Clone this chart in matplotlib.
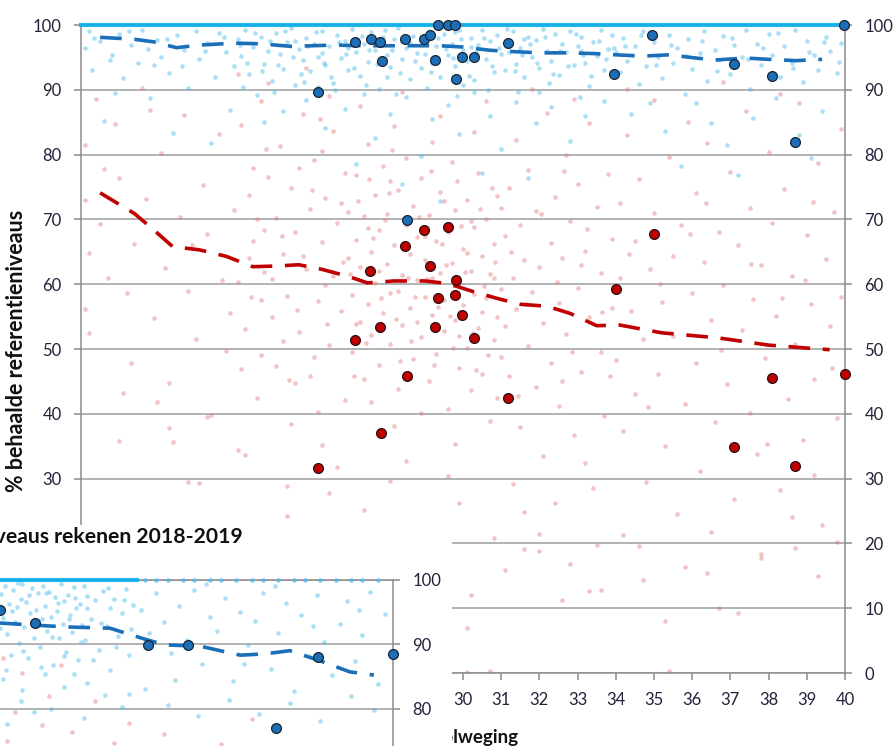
import matplotlib.pyplot as plt

plt.rcParams['font.family'] = ['Lato', 'DejaVu Sans']

# achtergrondwolk: individuele leerlingen (x = schoolweging, y = % behaald)
red_cloud = [
    (20.1, 81.5), (20.1, 73.0), (20.2, 64.8), (20.1, 56.2), (20.2, 52.4), (20.4, 88.6), (20.5, 69.3), (20.7, 61.0),
    (20.9, 84.7), (21.0, 76.4), (21.2, 58.6), (21.3, 47.9), (21.4, 66.2), (21.6, 90.3), (21.7, 73.1), (21.9, 54.8),
    (22.1, 80.2), (22.2, 62.5), (22.3, 44.7), (22.6, 70.4), (22.7, 86.1), (22.8, 58.9), (23.0, 51.6), (23.2, 75.3),
    (23.3, 67.8), (23.4, 39.8), (23.6, 83.2), (23.7, 60.7), (23.9, 55.6), (24.0, 71.4), (24.1, 92.5), (24.2, 46.9),
    (24.4, 64.1), (24.5, 78.0), (24.7, 57.5), (24.8, 68.3), (22.4, 35.6), (21.1, 43.2), (23.1, 29.3), (20.6, 77.8),
    (21.8, 86.9), (22.9, 66.1), (23.8, 49.7), (21.0, 35.8), (22.0, 41.8), (22.3, 37.8), (23.3, 39.5), (22.8, 29.5),
    (24.1, 34.4), (25.4, 24.2),
    (24.1, 60.3), (24.2, 84.6), (24.3, 53.1), (24.4, 73.8), (24.5, 66.7), (24.6, 42.5), (24.7, 88.2), (24.8, 61.9),
    (24.9, 76.5), (25.0, 55.0), (25.1, 70.2), (25.1, 47.3), (25.2, 81.4), (25.3, 64.6), (25.4, 58.2), (25.5, 74.9),
    (25.5, 38.4), (25.6, 68.0), (25.7, 52.7), (25.8, 86.3), (25.9, 62.4), (26.0, 71.6), (26.0, 45.8), (26.1, 79.1),
    (26.2, 57.4), (26.3, 66.5), (26.3, 35.2), (26.4, 73.3), (26.5, 50.6), (26.6, 83.7), (26.6, 61.2), (26.7, 69.4),
    (26.8, 55.9), (26.9, 77.2), (26.9, 42.1), (27.0, 64.0), (24.6, 70.1), (25.0, 60.8), (25.3, 51.2), (25.7, 77.9),
    (26.1, 48.7), (26.4, 59.8), (26.8, 72.6), (24.9, 91.0), (25.9, 93.4), (26.5, 89.1), (24.3, 33.6), (25.4, 28.9),
    (26.2, 40.3), (26.7, 31.8), (25.8, 64.4), (26.3, 80.5), (24.7, 49.0), (25.6, 44.7),
    (27.0, 71.2), (27.1, 58.3), (27.1, 49.6), (27.2, 66.8), (27.2, 76.9), (27.3, 54.2), (27.3, 62.7), (27.4, 45.3),
    (27.4, 70.5), (27.5, 81.6), (27.5, 57.0), (27.6, 64.9), (27.6, 52.1), (27.7, 73.7), (27.7, 60.2), (27.8, 68.4),
    (27.8, 47.5), (27.9, 55.6), (27.9, 78.3), (28.0, 63.1), (28.0, 70.9), (28.1, 50.8), (28.1, 58.7), (28.2, 66.0),
    (28.2, 84.4), (28.3, 74.6), (28.3, 43.9), (28.4, 61.4), (28.4, 53.7), (28.5, 69.2), (28.5, 79.5), (28.6, 56.3),
    (28.6, 64.7), (28.7, 48.4), (28.7, 72.1), (28.8, 60.6), (28.8, 67.3), (28.9, 51.9), (28.9, 76.4), (29.0, 58.1),
    (29.0, 63.8), (29.1, 45.0), (29.1, 70.7), (29.2, 55.2), (29.2, 82.0), (29.3, 66.6), (29.3, 49.3), (29.4, 61.7),
    (29.4, 74.2), (29.5, 57.6), (29.5, 52.8), (29.6, 68.0), (29.6, 40.7), (29.7, 63.3), (29.7, 78.8), (29.8, 54.5),
    (29.8, 71.4), (29.9, 47.0), (29.9, 60.0), (30.0, 65.5), (30.0, 56.8), (30.1, 73.0), (30.1, 50.2), (30.2, 62.1),
    (30.2, 43.6), (30.3, 68.9), (30.3, 58.5), (30.4, 77.1), (30.4, 53.3), (30.5, 64.4), (30.5, 46.1), (30.6, 70.0),
    (30.6, 57.9), (30.7, 38.9), (30.7, 61.6), (30.8, 51.4), (30.8, 66.2), (30.9, 55.0), (30.9, 73.6), (31.0, 48.8),
    (31.0, 59.3), (27.3, 87.5), (27.9, 36.5), (28.4, 89.7), (28.9, 40.2), (29.4, 86.0), (29.8, 35.4), (30.3, 83.5),
    (30.6, 88.2), (27.6, 41.8), (28.2, 38.1), (30.9, 42.4), (27.5, 68.7), (28.1, 76.0), (28.6, 45.6), (29.0, 67.5),
    (29.5, 72.9), (29.9, 52.0), (30.2, 69.8), (30.8, 60.9), (27.8, 62.0), (28.3, 58.9), (28.8, 54.1), (29.2, 61.0),
    (29.7, 58.0), (30.1, 64.8), (30.5, 55.7), (27.2, 53.9), (29.6, 30.4), (28.5, 32.7),
    (27.05, 61.5), (27.25, 72.8), (27.45, 50.9), (27.65, 67.1), (27.85, 57.8), (28.05, 74.0), (28.25, 54.6),
    (28.45, 65.7), (28.65, 51.2), (28.85, 70.3), (29.05, 60.8), (29.25, 47.6), (29.45, 66.2), (29.65, 55.1),
    (29.85, 75.9), (30.05, 61.9), (30.25, 52.4), (30.45, 71.6), (30.65, 49.1), (30.85, 63.4), (27.15, 45.9),
    (27.55, 76.3), (27.95, 69.9), (28.35, 48.2), (28.75, 58.0), (29.15, 77.4), (29.55, 63.0), (29.95, 69.0),
    (30.35, 46.8), (30.75, 74.9), (28.15, 80.7), (29.35, 56.5), (30.55, 59.7), (28.55, 61.0), (29.75, 50.1),
    (25.25, 67.4), (25.65, 56.0), (26.05, 74.6), (26.45, 53.9), (26.85, 63.5), (24.45, 58.1), (24.85, 80.9),
    (25.45, 45.2), (26.25, 85.5),
    (31.1, 67.4), (31.1, 53.6), (31.2, 74.8), (31.2, 45.9), (31.3, 61.0), (31.4, 82.3), (31.4, 56.2), (31.5, 69.1),
    (31.5, 38.0), (31.6, 63.7), (31.7, 50.4), (31.7, 77.6), (31.8, 58.8), (31.9, 44.2), (31.9, 71.3), (32.0, 62.6),
    (32.1, 33.5), (32.1, 54.0), (32.2, 86.4), (32.3, 66.3), (32.3, 47.8), (32.4, 73.4), (32.5, 57.1), (32.5, 41.2),
    (32.6, 64.0), (32.7, 79.9), (32.7, 52.3), (32.8, 69.7), (32.9, 36.7), (33.0, 59.4), (33.0, 75.5), (33.1, 46.5),
    (33.2, 65.2), (33.3, 54.9), (33.3, 84.8), (33.4, 28.6), (33.5, 71.9), (33.6, 49.5), (33.6, 61.8), (33.7, 39.6),
    (33.8, 77.0), (33.9, 56.4), (33.9, 67.0), (31.3, 29.2), (31.8, 90.2), (32.4, 26.3), (32.9, 88.6), (33.2, 32.4),
    (31.6, 24.8), (32.0, 21.5), (33.5, 19.7), (31.0, 71.7), (32.6, 45.0), (33.1, 63.0),
    (31.25, 64.9), (31.65, 57.0), (32.05, 70.8), (32.45, 60.3), (32.85, 49.6), (33.25, 68.5), (33.65, 55.7),
    (31.45, 42.8), (32.65, 77.5), (33.85, 45.8),
    (34.0, 48.3), (34.1, 72.5), (34.1, 60.9), (34.2, 37.4), (34.3, 83.1), (34.4, 55.8), (34.5, 66.7), (34.5, 43.0),
    (34.6, 76.2), (34.7, 51.6), (34.8, 29.5), (34.9, 62.4), (35.0, 88.5), (35.0, 71.0), (35.1, 46.2), (35.2, 57.3),
    (35.3, 35.1), (35.4, 79.6), (35.5, 64.3), (35.5, 52.0), (35.6, 24.6), (35.7, 69.2), (35.8, 41.5), (35.9, 85.0),
    (36.0, 58.6), (36.1, 74.0), (36.1, 47.9), (36.2, 31.2), (36.3, 63.5), (36.4, 81.8), (36.5, 54.4), (36.6, 38.8),
    (36.7, 68.1), (36.8, 59.9), (36.9, 44.6), (37.0, 77.3), (37.1, 26.9), (37.2, 66.0), (37.3, 52.9), (37.4, 86.7),
    (37.5, 40.1), (37.5, 71.8), (37.6, 57.7), (37.7, 33.8), (37.8, 62.9), (37.9, 48.6), (38.0, 80.4), (38.1, 69.5),
    (38.2, 55.1), (38.3, 28.2), (38.4, 74.7), (38.5, 42.3), (38.6, 61.3), (38.7, 50.8), (38.8, 88.0), (38.9, 36.0),
    (39.0, 67.6), (39.1, 56.9), (39.2, 45.4), (39.3, 78.7), (39.4, 22.9), (39.5, 63.9), (39.6, 53.5), (39.7, 71.2),
    (39.8, 39.3), (39.9, 83.9), (39.9, 58.1), (34.6, 19.6), (35.8, 16.4), (36.5, 21.7), (37.8, 18.3), (38.6, 24.1),
    (39.2, 30.6), (34.3, 90.1), (36.8, 91.2), (38.3, 89.4),
    (34.35, 64.6), (35.15, 60.1), (35.95, 67.7), (36.75, 49.8), (37.55, 63.1), (38.35, 57.9), (39.15, 72.7),
    (39.65, 47.1), (34.85, 41.0), (36.35, 72.5), (37.95, 35.4), (38.95, 60.6),
    (26.5, 27.8), (27.4, 25.1), (28.1, 29.6), (28.9, 22.4), (29.3, 17.9), (29.9, 26.2), (30.2, 12.0), (30.1, 7.0),
    (30.8, 20.8), (31.1, 15.9), (31.6, 19.1), (32.0, 18.8), (32.6, 11.3), (32.8, 16.8), (33.3, 12.7), (33.6, 12.8),
    (34.2, 21.3), (34.7, 14.3), (35.3, 8.0), (35.4, 0.3), (36.4, 15.5), (36.7, 10.1), (37.2, 9.3), (37.8, 17.7),
    (38.7, 19.3), (39.3, 15.0), (39.8, 20.2), (30.1, 0.2), (30.7, 0.3), (27.9, 14.6),
]

blue_cloud = [
    (20.1, 96.4), (20.2, 99.0), (20.3, 93.1), (20.5, 97.5), (20.6, 85.2), (20.8, 95.3), (21.0, 98.6), (21.1, 91.8),
    (21.3, 96.9), (21.5, 94.2), (21.6, 99.2), (21.8, 88.7), (22.0, 97.7), (22.1, 95.0), (22.3, 92.6), (22.5, 98.4),
    (22.7, 96.1), (22.8, 90.3), (23.0, 99.1), (23.1, 94.7), (23.3, 97.2), (23.5, 92.0), (23.6, 98.7), (23.8, 95.8),
    (23.9, 86.9), (24.0, 93.6), (20.9, 89.5), (22.4, 83.4), (23.4, 81.8), (21.9, 93.9),
    (20.35, 98.0), (20.75, 94.6), (21.25, 99.0), (21.75, 96.3), (22.25, 97.9), (22.65, 93.7), (23.25, 96.0),
    (23.75, 98.2),
    (24.1, 97.9), (24.2, 95.2), (24.3, 99.3), (24.4, 92.4), (24.5, 96.6), (24.6, 89.2), (24.7, 98.2), (24.8, 94.0),
    (24.9, 96.0), (25.0, 91.3), (25.1, 98.8), (25.2, 95.6), (25.3, 93.2), (25.4, 97.3), (25.5, 99.5), (25.6, 90.7),
    (25.7, 96.3), (25.8, 94.6), (25.9, 98.0), (26.0, 92.9), (26.1, 97.0), (26.2, 95.1), (26.3, 99.0), (26.4, 93.8),
    (26.5, 96.8), (26.6, 91.1), (26.7, 98.5), (26.8, 94.9), (26.9, 97.6), (27.0, 93.0), (27.1, 99.4), (27.2, 95.9),
    (27.3, 92.2), (27.4, 97.1), (27.5, 94.3), (27.6, 98.9), (27.7, 96.2), (27.8, 90.1), (27.9, 98.1), (28.0, 95.4),
    (28.1, 93.5), (28.2, 97.8), (28.3, 99.6), (28.4, 94.8), (28.5, 96.4), (28.6, 91.7), (28.7, 98.3), (28.8, 95.7),
    (28.9, 93.3), (29.0, 97.4), (29.1, 99.1), (29.2, 94.1), (29.3, 96.7), (29.4, 92.0), (29.5, 98.6), (29.6, 95.3),
    (29.7, 97.0), (29.8, 93.7), (29.9, 99.2), (30.0, 96.1), (30.1, 94.4), (30.2, 98.0), (30.3, 91.5), (30.4, 96.9),
    (30.5, 99.3), (30.6, 94.7), (30.7, 97.5), (30.8, 92.8), (30.9, 98.4), (31.0, 95.5), (31.1, 93.1), (31.2, 97.2),
    (31.3, 99.0), (31.4, 94.0), (31.5, 96.5), (31.6, 91.9), (31.7, 98.2), (31.8, 95.0), (31.9, 97.7), (32.0, 93.4),
    (32.1, 99.4), (32.2, 96.0), (32.3, 94.5), (32.4, 98.6), (32.5, 92.3), (32.6, 97.1), (32.7, 95.8), (32.8, 99.1),
    (32.9, 93.9), (33.0, 96.8), (33.1, 98.1), (33.2, 94.2), (33.3, 90.6), (33.4, 97.4), (33.5, 95.2), (33.6, 99.3),
    (33.7, 93.0), (33.8, 96.3), (33.9, 98.5), (25.3, 86.8), (25.9, 88.4), (26.4, 84.1), (26.9, 87.0), (27.4, 89.3),
    (27.7, 82.6), (28.1, 86.2), (28.5, 88.9), (28.9, 79.8), (29.2, 85.5), (29.6, 87.7), (29.9, 83.2), (30.3, 89.6),
    (30.7, 86.0), (31.0, 80.9), (31.4, 88.1), (31.9, 84.8), (32.3, 87.4), (32.8, 82.1), (33.2, 85.9), (33.7, 88.3),
    (28.4, 75.4), (29.4, 72.9), (30.5, 77.2), (27.2, 78.6), (31.7, 76.4), (24.8, 85.0), (26.2, 90.4), (28.0, 91.9),
    (30.0, 90.8), (32.0, 89.7), (25.6, 97.6), (27.0, 96.5), (28.6, 97.2), (30.2, 96.6), (31.6, 97.9), (33.1, 96.0),
    (26.3, 95.7), (29.0, 95.6), (29.8, 98.9), (31.2, 95.9), (27.9, 94.0),
    (24.15, 96.9), (24.35, 94.1), (24.55, 98.8), (24.75, 92.9), (24.95, 97.5), (25.15, 93.8), (25.35, 99.1),
    (25.55, 95.0), (25.75, 92.4), (25.95, 96.7), (26.15, 98.9), (26.35, 94.2), (26.55, 92.0), (26.75, 97.3),
    (26.95, 95.5), (27.15, 93.4), (27.35, 98.3), (27.55, 96.1), (27.75, 94.0), (27.95, 99.3), (28.15, 96.2),
    (28.35, 92.6), (28.55, 98.1), (28.75, 94.4), (28.95, 96.9), (29.15, 92.7), (29.35, 98.0), (29.55, 96.3),
    (29.75, 94.9), (29.95, 97.8), (30.15, 92.2), (30.35, 95.8), (30.55, 98.0), (30.75, 93.6), (30.95, 96.5),
    (31.15, 99.4), (31.35, 92.9), (31.55, 95.4), (31.75, 97.0), (31.95, 94.1), (32.15, 98.2), (32.35, 92.5),
    (32.55, 96.0), (32.75, 93.7), (32.95, 98.6), (33.15, 95.3), (33.35, 92.1), (33.55, 97.6), (33.75, 94.7),
    (33.95, 96.4), (24.25, 90.5), (25.05, 89.7), (25.85, 91.2), (26.65, 89.9), (27.45, 90.8), (28.25, 89.4),
    (29.05, 90.3), (29.85, 89.1), (30.65, 90.0), (31.45, 89.6), (32.25, 91.0), (33.05, 88.9),
    (34.0, 95.9), (34.1, 92.7), (34.2, 98.0), (34.3, 94.4), (34.5, 96.8), (34.6, 90.9), (34.7, 99.1), (34.8, 93.6),
    (35.0, 97.3), (35.1, 95.0), (35.2, 91.8), (35.4, 98.4), (35.5, 94.1), (35.6, 96.5), (35.8, 89.4), (35.9, 97.8),
    (36.0, 93.2), (36.2, 95.7), (36.3, 99.0), (36.4, 91.4), (36.6, 96.2), (36.7, 94.6), (36.8, 98.3), (37.0, 92.5),
    (37.1, 96.9), (37.3, 95.1), (37.4, 99.2), (37.5, 90.2), (37.7, 97.0), (37.8, 93.9), (38.0, 98.6), (38.1, 95.4),
    (38.3, 92.0), (38.4, 96.7), (38.6, 94.2), (38.7, 99.3), (38.9, 91.2), (39.0, 97.5), (39.2, 95.3), (39.3, 93.0),
    (39.5, 98.1), (39.6, 96.0), (39.8, 92.6), (39.9, 97.2), (34.4, 86.3), (35.3, 83.7), (36.1, 87.9), (36.9, 81.5),
    (37.6, 85.6), (38.2, 88.8), (38.8, 83.0), (39.4, 86.7), (35.7, 78.2), (37.2, 76.9), (39.1, 79.5), (34.9, 88.0),
    (36.5, 84.9),
    (34.25, 96.7), (34.65, 98.4), (35.05, 93.9), (35.45, 96.9), (35.85, 95.2), (36.25, 97.5), (36.65, 92.9),
    (37.05, 98.0), (37.45, 94.8), (37.85, 96.4), (38.25, 98.8), (38.65, 93.4), (39.05, 95.9), (39.45, 97.3),
    (39.85, 94.3),
]

# leerlingen met 100% (liggen op de bovenrand)
top_x = [20.0, 20.4, 20.9, 21.3, 21.8, 22.2, 22.7, 23.1, 23.6, 24.0, 24.5, 24.9, 25.4, 25.8, 26.3, 26.7,
         27.2, 27.6, 28.1, 28.5, 29.0, 29.4, 29.9, 30.3, 30.8, 31.2, 31.7, 32.1, 32.6, 33.0, 33.5, 33.9,
         34.4, 34.8, 35.3, 35.7, 36.2, 36.6, 37.1, 37.5, 38.0, 38.4, 38.9, 39.3, 39.8, 40.0]

# trendlijnen
blue_trend_x = [20.5, 21.4, 21.9, 22.5, 23.1, 24.0, 24.7, 25.5, 26.6, 27.4, 28.0, 28.7, 29.4, 30.0, 30.7,
                31.3, 32.0, 32.7, 33.4, 34.0, 34.7, 35.4, 36.1, 36.6, 37.4, 38.0, 38.7, 39.4]
blue_trend_y = [98.1, 97.8, 97.4, 96.5, 96.9, 97.2, 97.1, 96.7, 96.9, 96.8, 96.8, 96.8, 96.8, 96.6, 96.1,
                95.9, 95.7, 95.7, 95.6, 95.4, 95.2, 95.4, 94.9, 94.6, 94.9, 94.7, 94.5, 94.7]
red_trend_x = [20.5, 21.4, 21.9, 22.4, 23.1, 23.8, 24.5, 25.1, 25.7, 26.3, 27.0, 27.5, 28.2, 29.0, 29.6,
               30.3, 30.9, 31.5, 32.2, 32.8, 33.5, 34.1, 35.2, 36.7, 38.0, 39.1, 39.6]
red_trend_y = [74.1, 70.9, 68.4, 65.8, 65.3, 64.3, 62.7, 62.8, 63.0, 62.3, 61.2, 60.2, 60.5, 60.5, 60.1,
               58.8, 57.8, 56.9, 56.6, 55.5, 53.6, 53.7, 52.5, 51.7, 50.6, 50.1, 49.9]

# scholen (grote stippen)
school_blue_x = [26.21, 27.17, 27.58, 27.84, 27.87, 28.48, 28.99, 29.13, 29.28, 29.35, 29.60, 29.79, 29.82,
                 29.98, 30.30, 31.19, 28.53, 34.96, 33.96, 37.09, 38.10, 38.70, 39.98]
school_blue_y = [89.6, 97.4, 97.8, 97.4, 94.5, 97.8, 97.8, 98.4, 94.6, 100.0, 100.0, 100.0, 91.6,
                 95.1, 95.1, 97.2, 69.9, 98.5, 92.4, 94.0, 92.2, 81.9, 100.0]
school_red_x = [28.99, 29.60, 28.47, 27.57, 29.13, 29.81, 29.34, 29.78, 29.97, 27.83, 29.28, 27.17, 30.29,
                28.53, 31.18, 27.86, 26.21, 35.0, 34.0, 40.0, 38.1, 37.1, 38.7]
school_red_y = [68.4, 68.9, 65.9, 62.1, 62.8, 60.6, 57.9, 58.3, 55.2, 53.4, 53.4, 51.4, 51.7,
                45.8, 42.5, 37.1, 31.7, 67.7, 59.3, 46.2, 45.5, 34.8, 32.0]

# tweede grafiek (deels zichtbaar, linksonder)
inset_blue_cloud = [
    (29.75, 97.8), (29.8, 94.1), (29.85, 99.0), (29.9, 91.6), (29.95, 96.2), (30.0, 88.3), (30.05, 98.4),
    (30.1, 93.5), (30.15, 95.8), (30.2, 90.2), (30.25, 97.1), (30.3, 99.3), (30.35, 92.7), (30.4, 96.6),
    (30.45, 87.9), (30.5, 94.8), (30.55, 98.7), (30.6, 91.0), (30.65, 95.4), (30.7, 97.9), (30.75, 89.6),
    (30.8, 93.9), (30.85, 99.1), (30.9, 96.0), (30.95, 92.1), (31.0, 98.1), (31.05, 94.3), (31.1, 86.7),
    (31.15, 97.3), (31.2, 95.1), (31.25, 90.9), (31.3, 99.4), (31.35, 93.2), (31.4, 96.8), (31.45, 88.8),
    (31.5, 97.7), (31.55, 94.6), (31.6, 91.9), (31.65, 98.9), (31.7, 95.7), (31.75, 87.5), (31.8, 96.3),
    (31.85, 93.0), (31.9, 99.0), (31.95, 90.6), (32.0, 97.5), (32.1, 94.0), (32.2, 96.9), (32.3, 89.1),
    (32.4, 98.3), (32.5, 92.8), (32.6, 95.6), (32.7, 97.0), (32.8, 91.3), (32.9, 94.9), (33.0, 98.6),
    (33.1, 88.4), (33.2, 96.1), (29.8, 84.6), (30.3, 82.9), (30.9, 85.3), (31.4, 83.4), (32.0, 84.0),
    (32.6, 86.0), (33.1, 82.2), (30.6, 79.4), (31.9, 78.5), (32.9, 80.3), (29.9, 77.6),
    (29.72, 92.5), (29.88, 86.0), (30.02, 95.2), (30.18, 99.5), (30.32, 89.0), (30.48, 97.6), (30.62, 93.0),
    (30.78, 86.5), (30.92, 98.0), (31.08, 91.2), (31.22, 96.4), (31.38, 88.1), (31.52, 94.0), (31.68, 97.2),
    (31.82, 90.4), (31.98, 95.6), (32.15, 87.6), (32.35, 93.3), (32.55, 98.8), (32.75, 89.5), (32.95, 96.9),
    (33.15, 92.4), (30.25, 81.2), (31.05, 80.0), (31.65, 85.4), (32.45, 82.1),
    (33.4, 95.3), (33.6, 91.8), (33.8, 97.9), (34.0, 93.4), (34.2, 88.6), (34.4, 96.0), (34.6, 90.7),
    (34.8, 98.5), (35.0, 86.9), (35.2, 94.2), (35.4, 92.1), (35.6, 97.2), (35.8, 84.3), (36.0, 95.0),
    (36.2, 89.9), (36.4, 93.6), (36.6, 98.0), (36.8, 86.1), (37.0, 91.7), (37.2, 96.4), (37.4, 82.7),
    (37.6, 94.5), (37.8, 88.2), (38.0, 97.6), (38.2, 90.4), (38.4, 85.2), (38.6, 93.1), (38.8, 96.7),
    (39.0, 87.4), (39.2, 91.5), (39.4, 98.2), (39.6, 83.8), (39.8, 94.7), (39.95, 89.0), (33.5, 83.0),
    (34.1, 80.6), (34.9, 78.9), (35.7, 81.3), (36.5, 79.2), (37.3, 80.8), (38.1, 78.1), (38.9, 81.9),
    (39.5, 79.7), (36.9, 99.1), (35.1, 99.3), (34.3, 84.5), (36.1, 87.0), (37.9, 92.9), (39.1, 95.4),
]
inset_red_cloud = [
    (29.8, 87.9), (30.3, 85.6), (31.0, 82.0), (30.1, 79.4), (30.8, 77.5), (31.6, 76.3), (32.2, 81.1),
    (29.9, 75.0), (30.5, 73.8), (32.7, 74.6), (33.1, 77.8), (31.3, 86.7), (34.0, 76.0), (35.5, 74.5),
    (36.3, 78.4),
]
inset_top_x = [29.7, 30.1, 30.6, 31.0, 31.5, 31.9, 32.4, 32.8, 33.3]
inset_top_sparse_x = [33.5, 33.8, 34.1, 34.5, 34.8, 35.2, 35.5, 35.9, 36.3, 36.6, 37.0, 37.4, 37.7,
                      38.1, 38.5, 38.9, 39.2, 39.6]
inset_trend_x = [29.71, 31.41, 32.59, 33.5, 34.03, 34.95, 36.0, 36.65, 37.3, 38.1, 38.87, 39.5]
inset_trend_y = [93.3, 92.7, 92.5, 90.8, 89.9, 89.7, 88.3, 88.5, 89.0, 87.4, 85.7, 85.2]
inset_school_x = [29.71, 30.63, 33.59, 34.63, 36.94, 38.04, 40.0]
inset_school_y = [95.3, 93.3, 89.9, 89.9, 77.0, 88.0, 88.5]

W, H = 894, 746
TXT = '#22223a'
GRID = '#a6a6a6'
SPINE = '#8c8c8c'
LBLUE = '#45b8ec'
LRED = '#e07a7a'
BLUE = '#1a6fb8'
RED = '#c00000'
DOT = 11


def box(x0, y0, x1, y1):  # pixelvak -> figuurcoordinaten
    return [x0 / W, 1 - y1 / H, (x1 - x0) / W, (y1 - y0) / H]


def style_axis(ax):
    for s in ax.spines.values():
        s.set_color(SPINE)
        s.set_linewidth(1.1)
    ax.grid(axis='y', color=GRID, lw=1.2)
    ax.set_axisbelow(True)
    ax.tick_params(colors=SPINE, labelcolor=TXT, labelsize=12, length=5, width=1.1, pad=9)


fig = plt.figure(figsize=(W / 100, H / 100), dpi=100)

# hoofdgrafiek
ax = fig.add_axes(box(81, 25, 845, 673))
ax.scatter(*zip(*red_cloud), s=DOT, color=LRED, alpha=0.45, lw=0)
ax.scatter(*zip(*blue_cloud), s=DOT, color=LBLUE, alpha=0.45, lw=0)
ax.plot(top_x, [100] * len(top_x), color='#00b0f0', lw=3, alpha=0.85, clip_on=False, zorder=3)
ax.plot(blue_trend_x, blue_trend_y, color=BLUE, lw=2.6, dashes=(6, 3.5), zorder=4)
ax.plot(red_trend_x, red_trend_y, color=RED, lw=2.6, dashes=(6, 3.5), zorder=4)
ax.scatter(school_blue_x, school_blue_y, s=50, color=BLUE, edgecolor='#1b2430', lw=0.9, zorder=6, clip_on=False)
ax.scatter(school_red_x, school_red_y, s=50, color=RED, edgecolor='#2a1010', lw=0.9, zorder=6, clip_on=False)
ax.set_xlim(20, 40)
ax.set_ylim(0, 100)
ax.set_xticks(range(20, 41))
ax.set_yticks(range(0, 101, 10))
style_axis(ax)
ax.tick_params(axis='y', left=True, right=True, labelleft=True, labelright=True)
fig.text(519 / W, 1 - 737 / H, 'Schoolweging', ha='right', va='center',
         fontsize=13.5, fontweight='bold', color='#111111')
fig.text(17 / W, 1 - 351 / H, '% behaalde referentieniveaus', rotation=90, ha='center', va='center',
         fontsize=15.5, fontweight='bold', color='#111111')

# overlappende tweede grafiek (linksonder)
cover = fig.add_axes(box(0, 525, 452, 746), zorder=5)
cover.set_facecolor('white')
cover.set_xticks([])
cover.set_yticks([])
for s in cover.spines.values():
    s.set_visible(False)
fig.text(243 / W, 1 - 537 / H, '% behaalde referentieniveaus rekenen 2018-2019', ha='right', va='center',
         fontsize=15.2, fontweight='bold', color='#111111', zorder=10)

ins = fig.add_axes(box(-371, 580, 393, 837), zorder=6)
ins.patch.set_alpha(0)
ins.scatter(*zip(*inset_red_cloud), s=DOT, color=LRED, alpha=0.45, lw=0)
ins.scatter(*zip(*inset_blue_cloud), s=DOT, color=LBLUE, alpha=0.45, lw=0)
ins.plot(inset_top_x, [100] * len(inset_top_x), color='#00b0f0', lw=3, alpha=0.85, clip_on=False, zorder=3)
ins.scatter(inset_top_sparse_x, [100] * len(inset_top_sparse_x), s=DOT, color=LBLUE, alpha=0.7, lw=0,
            clip_on=False, zorder=3)
ins.plot(inset_trend_x, inset_trend_y, color=BLUE, lw=2.6, dashes=(6, 3.5), zorder=4)
ins.scatter(inset_school_x, inset_school_y, s=50, color=BLUE, edgecolor='#1b2430', lw=0.9, zorder=6, clip_on=False)
ins.set_xlim(20, 40)
ins.set_ylim(60, 100)
ins.set_xticks([])
ins.set_yticks([80, 90, 100])
style_axis(ins)
ins.yaxis.tick_right()
ins.spines['left'].set_visible(False)

fig.savefig('out.png', dpi=100)
